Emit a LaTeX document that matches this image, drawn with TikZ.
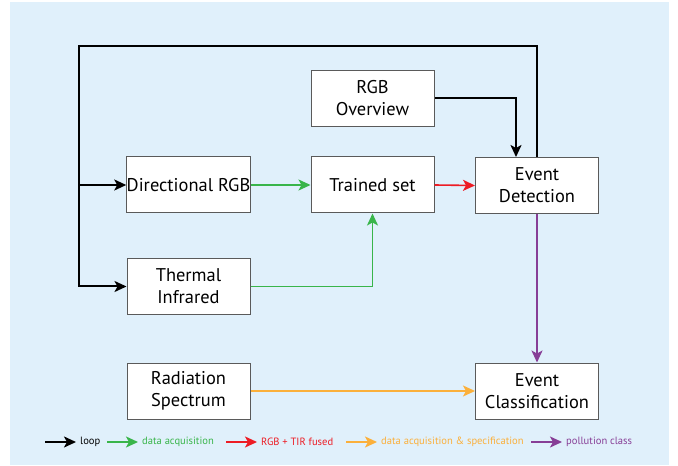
\documentclass[tikz,border=0pt]{standalone}
\usepackage{fontspec}
\setmainfont{PT Sans}
\usetikzlibrary{arrows.meta}

\definecolor{bgblue}{RGB}{224,240,251}
\definecolor{acqgreen}{RGB}{57,181,74}
\definecolor{fusedred}{RGB}{237,28,36}
\definecolor{specorange}{RGB}{251,176,59}
\definecolor{classpurple}{RGB}{135,62,150}
\definecolor{boxgray}{RGB}{90,90,90}

\tikzset{
  box/.style={draw=boxgray, line width=1bp, fill=white, minimum width=123bp,
    minimum height=56bp, inner sep=0pt, align=center,
    font=\fontsize{18.5}{22}\selectfont},
  flow/.style={line width=1.6bp, -{Stealth[length=12bp, width=11bp, inset=3bp]}},
  loopline/.style={flow, black, line width=2bp},
  acqline/.style={flow, acqgreen},
  fusedline/.style={flow, fusedred},
  specline/.style={flow, specorange},
  classline/.style={flow, classpurple},
  legend/.style={anchor=west, inner sep=0pt, font=\fontsize{10.6}{13}\selectfont}
}

\begin{document}
\begin{tikzpicture}[x=1bp, y=-1bp]
    % Background
    \fill[bgblue] (10,2) rectangle (669,465);
    \useasboundingbox (0,0) rectangle (678,466);

    % Boxes
    \node[box] (overview) at (372.5,98.5) {RGB\\Overview};
    \node[box] (dirrgb) at (188.5,185) {Directional RGB};
    \node[box] (trained) at (372.5,185) {Trained set};
    \node[box] (detect) at (537,185.5) {Event\\Detection};
    \node[box] (thermal) at (188.5,286.5) {Thermal\\Infrared};
    \node[box] (radiation) at (188.5,391) {Radiation\\Spectrum};
    \node[box] (classify) at (537,391) {Event\\Classification};

    % Loop back
    \coordinate (looptop) at (79,46);
    \draw[loopline] (detect.north) |- (looptop) |- (thermal.west);
    \draw[loopline] (looptop |- dirrgb.west) -- (dirrgb.west);
    \draw[loopline] (overview.east) -| ([xshift=-21bp]detect.north);

    % Data flow
    \draw[acqline] (dirrgb.east) -- (trained.west);
    \draw[acqline] (thermal.east) -| (trained.south);
    \draw[fusedline] (trained.east) -- (detect.west);
    \draw[classline] (detect.south) -- (classify.north);
    \draw[specline] (radiation.east) -- (classify.west);

    % Legend
    \node[legend] (lgloop) at (80,442) {loop};
    \node[legend, text=acqgreen] (lgacq) at (142,442) {data acquisition};
    \node[legend, text=fusedred] (lgfused) at (261,442) {RGB + TIR fused};
    \node[legend, text=specorange] (lgspec) at (381,442) {data acquisition \& specification};
    \node[legend, text=classpurple] (lgclass) at (566,442) {pollution class};
    \draw[loopline] ([xshift=-35bp]lgloop.west) -- ([xshift=-4bp]lgloop.west);
    \draw[acqline] ([xshift=-35bp]lgacq.west) -- ([xshift=-4bp]lgacq.west);
    \draw[fusedline] ([xshift=-35bp]lgfused.west) -- ([xshift=-4bp]lgfused.west);
    \draw[specline] ([xshift=-35bp]lgspec.west) -- ([xshift=-4bp]lgspec.west);
    \draw[classline] ([xshift=-35bp]lgclass.west) -- ([xshift=-4bp]lgclass.west);
\end{tikzpicture}
\end{document}
